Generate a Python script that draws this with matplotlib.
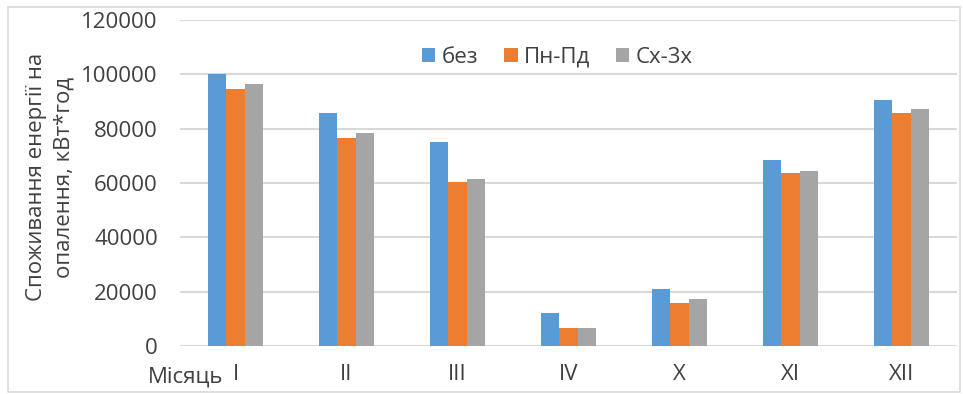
import matplotlib
matplotlib.use("Agg")
import matplotlib.pyplot as plt
import numpy as np
from matplotlib.patches import Rectangle

months = ["I", "II", "III", "IV", "X", "XI", "XII"]
series_names = ["без", "Пн-Пд", "Сх-3х"]
bez = [100300, 85900, 75200, 12300, 20900, 68500, 90700]
pn_pd = [94600, 76600, 60500, 6800, 15700, 63500, 85700]
sh_zh = [96400, 78500, 61400, 6800, 17200, 64400, 87400]
colors = ["#5B9BD5", "#ED7D31", "#A5A5A5"]
yticks = [0, 20000, 40000, 60000, 80000, 100000, 120000]

plt.rcParams['font.family'] = ['Open Sans', 'DejaVu Sans']
fs = 16
tc = "#404040"

fig = plt.figure(figsize=(9.63, 3.94), dpi=100)
ax = fig.add_axes([180/963, 1-346/394, (957-180)/963, (346-20)/394])

x = np.arange(len(months))
w = 0.168
for i, (vals, c, name) in enumerate(zip([bez, pn_pd, sh_zh], colors, series_names)):
    ax.bar(x + (i-1)*w, vals, width=w, color=c, label=name, zorder=3)

ax.set_xlim(-0.5, len(months)-0.5)
ax.set_ylim(0, 120000)
ax.set_yticks(yticks)
ax.set_yticklabels([str(t) for t in yticks], fontsize=fs, color=tc)
ax.set_xticks(x)
ax.set_xticklabels(months, fontsize=fs, color=tc)
ax.tick_params(axis='both', length=0)
ax.tick_params(axis='y', pad=16)
ax.tick_params(axis='x', pad=13)
ax.grid(axis='y', color="#D9D9D9", linewidth=1.5, zorder=0)
for s in ax.spines.values():
    s.set_visible(False)

ax.set_ylabel("Споживання енергії на\nопалення, кВт*год", fontsize=fs, color=tc,
              linespacing=1.45, ha='center', va='center')
ax.yaxis.set_label_coords(-0.167, 0.518)

fig.text(223/963, 1-383/394, "Місяць", fontsize=fs, color=tc, ha='right', va='baseline')

leg = ax.legend(loc='center', bbox_to_anchor=(0.486, 0.885), ncol=3, frameon=False,
                fontsize=fs, handlelength=0.6, handleheight=0.6, handletextpad=0.3,
                columnspacing=1.15, labelcolor=tc)

fig.add_artist(Rectangle((8/963, 1-392/394), (960-8)/963, (392-7)/394, transform=fig.transFigure,
                         fill=False, edgecolor="#D9D9D9", linewidth=1.2))

fig.savefig("out.png", dpi=100)
